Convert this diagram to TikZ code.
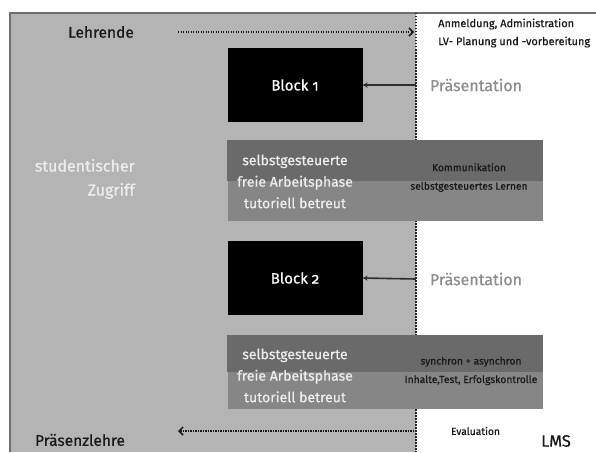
\documentclass[tikz,border=0pt]{standalone}
\usepackage{fontspec}
\setmainfont{Fira Sans}[Numbers=OldStyle, FakeBold=0.6]
\usetikzlibrary{arrows.meta}
\definecolor{bggray}{HTML}{B4B4B4}
\definecolor{bordergray}{HTML}{6E6E6E}
\definecolor{banddark}{HTML}{6A6A6A}
\definecolor{bandlight}{HTML}{868686}
\definecolor{prestext}{HTML}{8C8C8C}
\definecolor{arrowgray}{HTML}{2E2E2E}
\definecolor{softwhite}{HTML}{EDEDED}
\tikzset{
  blockbox/.style={fill=black, draw=none, minimum width=135, minimum height=74, text=white, font=\fontsize{15}{18}\selectfont, inner sep=0pt},
  bandbox/.style={fill=bandlight, draw=none, minimum width=315, minimum height=81, inner sep=0pt},
  bandtext/.style={align=center, text=softwhite, font=\fontsize{14}{21.5}\selectfont, inner sep=0pt},
  smalltext/.style={align=center, text=black!90, font=\fontsize{10.3}{18.5}\selectfont, inner sep=0pt},
  prestxt/.style={text=prestext, font=\fontsize{16}{19}\selectfont, inner sep=0pt},
  bigtxt/.style={text=black!90, font=\fontsize{15.5}{18}\selectfont, inner sep=0pt},
  dotarrow/.style={black!90, line width=1.8pt, dash pattern=on 1.3pt off 1.2pt, -{Straight Barb[length=4pt,width=8pt,line width=1.5pt]}},
  vdots/.style={black!85, line width=1.8pt, dash pattern=on 1.5pt off 1.5pt},
  presarrow/.style={arrowgray, line width=1.6pt, -{Stealth[length=5pt,width=5pt]}}
}
\begin{document}
\begin{tikzpicture}[x=1pt,y=-1pt]
\useasboundingbox (0,0) rectangle (596,452);
\fill[white] (0,0) rectangle (596,452);
\fill[bggray] (10,13) rectangle (416,452);
\draw[bordergray, line width=1.2pt] (596,13) -- (10,13) -- (10,452);
\coordinate (vtop) at (416,13);
\coordinate (vbot) at (416,452);
\draw[vdots] (vtop) -- (vbot);

% top labels
\node[bigtxt] (lehrende) at (101,32) {Lehrende};
\coordinate (lehrendeStart) at (178,32);
\coordinate (lehrendeEnd) at (414,32);
\draw[dotarrow] (lehrendeStart) -- (lehrendeEnd);

\node[smalltext, font=\fontsize{11}{18}\selectfont, anchor=west] (anm) at (438,24) {Anmeldung, Administration};
\node[smalltext, font=\fontsize{11}{18}\selectfont, anchor=west] (lv) at (438,42) {LV- Planung und -vorbereitung};

% block 1
\node[blockbox] (b1) at (295,85) {Block 1};
\node[prestxt] (p1) at (476,85) {Präsentation};
\coordinate (p1src) at (416,85);
\draw[presarrow] (p1src) -- (b1.east);

% student access
\node[align=right, text=softwhite, font=\fontsize{16}{24}\selectfont, inner sep=0pt, anchor=east] (stud) at (135,179) {studentischer\\Zugriff};

% band 1
\node[bandbox] (band1) at (385,180.5) {};
\fill[banddark] (band1.north west) rectangle (band1.east);
\node[bandtext] (bt1) at (295,181.5) {selbstgesteuerte\\freie Arbeitsphase\\tutoriell betreut};
\node[smalltext] (kom) at (469,177.5) {Kommunikation\\selbstgesteuertes Lernen};

% block 2
\node[blockbox] (b2) at (295,278) {Block 2};
\node[prestxt] (p2) at (476,279) {Präsentation};
\coordinate (p2src) at (416,279);
\draw[presarrow] (p2src) -- (b2.east);

% band 2
\node[bandbox, minimum height=74] (band2) at (385,372) {};
\fill[banddark] (band2.north west) rectangle (band2.east);
\node[bandtext] (bt2) at (295,375.5) {selbstgesteuerte\\freie Arbeitsphase\\tutoriell betreut};
\node[smalltext] (syn) at (471,371) {synchron + asynchron\\Inhalte,Test, Erfolgskontrolle};

% bottom
\node[smalltext] (eval) at (475.5,431) {Evaluation};
\node[bigtxt, font=\fontsize{16.5}{19}\selectfont] (lms) at (556,441) {LMS};
\node[bigtxt] (praes) at (80,440) {Präsenzlehre};
\coordinate (botStart) at (414,431);
\coordinate (botEnd) at (178,431);
\draw[dotarrow] (botStart) -- (botEnd);
\end{tikzpicture}
\end{document}
